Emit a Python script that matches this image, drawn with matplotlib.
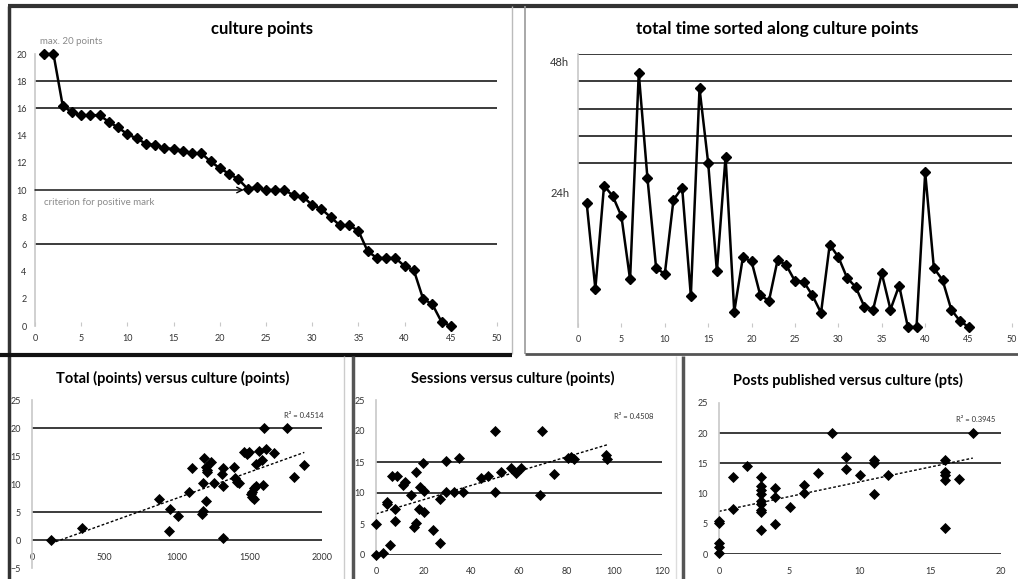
import numpy as np
import matplotlib.pyplot as plt
from matplotlib.lines import Line2D

plt.rcParams['font.family'] = ['Lato', 'DejaVu Sans']

W, H = 1018, 579

# top-left: culture points of each student, sorted
students = list(range(1, 46))
culture = [20, 20, 16.2, 15.7, 15.5, 15.5, 15.5, 15.0, 14.6, 14.1,
           13.8, 13.4, 13.3, 13.1, 13.0, 12.9, 12.7, 12.7, 12.1, 11.6,
           11.2, 10.8, 10.1, 10.2, 10.0, 10.0, 10.0, 9.6, 9.5, 8.9,
           8.6, 8.0, 7.4, 7.4, 7.0, 5.5, 5.0, 5.0, 5.0, 4.4,
           4.1, 2.0, 1.6, 0.3, 0.0]

# top-right: total time (hours) in the same order
total_time = [22.7, 7.0, 25.9, 24.0, 20.3, 8.7, 46.5, 27.3, 10.8, 9.7,
              23.3, 25.5, 5.7, 43.7, 30.0, 10.2, 31.2, 2.8, 12.8, 12.0,
              5.8, 4.8, 12.3, 11.3, 8.4, 8.3, 5.8, 2.6, 15.1, 12.8,
              9.0, 7.3, 3.7, 3.2, 9.8, 3.2, 7.6, 0.0, 0.0, 28.3,
              10.8, 8.6, 3.2, 1.1, 0.0]

# bottom-left: total points vs culture points
total_pts = [133, 345, 878, 943, 954, 1007, 1085, 1104, 1170, 1181,
             1177, 1184, 1198, 1205, 1209, 1202, 1235, 1253, 1315, 1313,
             1315, 1315, 1395, 1402, 1416, 1430, 1460, 1483, 1497, 1510,
             1519, 1529, 1533, 1547, 1543, 1568, 1586, 1596, 1598, 1616,
             1671, 1759, 1809, 1878, 1517]
total_cult = [0.0, 2.1, 7.4, 1.6, 5.5, 4.2, 8.6, 12.9, 4.6, 5.2,
              10.1, 14.7, 13.1, 12.5, 12.1, 7.0, 13.9, 10.1, 12.8, 11.7,
              9.6, 0.3, 13.1, 11.1, 10.4, 10.1, 15.7, 15.3, 15.7, 8.2,
              7.7, 7.3, 9.2, 9.7, 13.5, 15.9, 14.3, 9.9, 20.0, 16.25,
              15.6, 20.0, 11.3, 13.4, 8.5]

# bottom-middle: sessions vs culture points
sessions = [0, 0, 2.8, 5.9, 4.6, 4.8, 6.7, 8.8, 8.1, 8.1,
            11.3, 12.0, 14.7, 15.8, 16.8, 16.8, 17.9, 18.6, 19.7, 20.3,
            20.3, 23.8, 26.9, 27.0, 29.5, 29.5, 32.6, 34.7, 36.5, 44.1,
            47.0, 50.1, 50.1, 52.6, 56.8, 58.9, 60.8, 69.0, 69.7, 74.8,
            80.6, 81.8, 82.9, 96.5, 96.9]
sess_cult = [0.0, 5.0, 0.4, 1.6, 8.6, 8.2, 12.8, 12.8, 7.4, 5.5,
             11.3, 11.7, 9.6, 4.5, 5.1, 13.4, 7.4, 11.0, 14.8, 10.3,
             7.0, 4.1, 9.0, 2.0, 15.2, 10.2, 10.2, 15.7, 10.1, 12.4,
             12.8, 20.0, 10.2, 13.4, 14.1, 13.2, 14.0, 9.6, 20.0, 13.1,
             15.6, 15.75, 15.5, 16.2, 15.5]

# bottom-right: posts published vs culture points
posts = [0, 0, 0, 0, 0, 1, 1, 2, 3, 3, 3, 3, 3, 3, 3, 3, 3,
         4, 4, 4, 5, 6, 6, 7, 8, 9, 9, 10, 11, 11, 11, 12,
         16, 16, 16, 16, 16, 17, 18]
posts_cult = [0.2, 1.2, 1.8, 5.1, 5.5, 12.7, 7.4, 14.5, 12.7, 11.2, 10.6, 9.9, 8.7, 8.3, 7.3, 6.9, 4.0,
              10.9, 9.5, 4.9, 7.8, 11.5, 10.1, 13.4, 20.0, 16.1, 14.1, 13.1, 15.6, 15.0, 9.9, 13.1,
              15.6, 13.6, 13.1, 12.2, 4.3, 12.5, 20.0]

fig = plt.figure(figsize=(W / 100, H / 100), dpi=100)


def px_axes(x0, x1, ytop, ybot):
    return fig.add_axes([x0 / W, 1 - ybot / H, (x1 - x0) / W, (ybot - ytop) / H])


def fig_line(x0, y0, x1, y1, color, lw):
    fig.add_artist(Line2D([x0 / W, x1 / W], [1 - y0 / H, 1 - y1 / H],
                          transform=fig.transFigure, color=color, lw=lw,
                          solid_capstyle='butt'))


def fig_text(x, y, s, **kw):
    fig.text(x / W, 1 - y / H, s, **kw)


def style(ax, ypad=10):
    for s in ['top', 'right', 'bottom']:
        ax.spines[s].set_visible(False)
    ax.spines['left'].set_color('#c8c8c8')
    ax.spines['left'].set_linewidth(1.2)
    ax.tick_params(axis='y', length=0, labelsize=6.5, labelcolor='#333333', pad=ypad)
    ax.tick_params(axis='x', length=3, direction='in', color='#c8c8c8',
                   labelsize=6.5, labelcolor='#333333', pad=6)
    ax.set_facecolor('none')


# panel borders (screenshot collage)
fig_line(8, 6, 1018, 6, '#333333', 3)
fig_line(9, 6, 9, 579, '#333333', 2.5)
fig_line(512, 6, 512, 354, '#bbbbbb', 1)
fig_line(525, 6, 525, 354, '#999999', 1.2)
fig_line(0, 355, 512, 355, '#111111', 3)
fig_line(525, 354, 1018, 354, '#555555', 2)
fig_line(344, 356, 344, 579, '#cccccc', 1)
fig_line(353, 356, 353, 579, '#555555', 2.5)
fig_line(676, 356, 676, 579, '#dddddd', 1)
fig_line(683, 356, 683, 579, '#555555', 2.5)

# ---- top-left: culture points
ax1 = px_axes(35, 497, 54, 326)
style(ax1, ypad=6)
for g in [18, 16, 6]:
    ax1.axhline(g, color='#1a1a1a', lw=1.2, zorder=1)
ax1.plot(students, culture, color='black', lw=1.8, marker='D', ms=5.5, zorder=3, clip_on=False)
ax1.annotate('', xy=(22.6, 10), xytext=(0, 10),
             arrowprops=dict(arrowstyle='->', color='black', lw=1, shrinkA=0, shrinkB=0))
ax1.set_xlim(0, 50)
ax1.set_ylim(0, 20)
ax1.set_xticks(range(0, 51, 5))
ax1.set_yticks(range(0, 21, 2))
ax1.text(0.5, 20.9, 'max. 20 points', color='#8a8a8a', fontsize=7, va='center', clip_on=False)
ax1.text(1.0, 9.05, 'criterion for positive mark', color='#8a8a8a', fontsize=7, va='center')
fig_text(262, 29, 'culture points', ha='center', va='center', fontsize=12, fontweight='bold')

# ---- top-right: total time
ax2 = px_axes(578, 1012, 54, 327)
style(ax2)
for g in [30, 35, 40, 45, 50]:
    ax2.axhline(g, color='#1a1a1a', lw=1.2, zorder=1)
ax2.plot(students, total_time, color='black', lw=1.8, marker='D', ms=5.5, zorder=3, clip_on=False)
ax2.set_xlim(0, 50)
ax2.set_ylim(0, 50)
ax2.set_xticks(range(0, 51, 5))
ax2.set_yticks([])
yt = ax2.get_yaxis_transform()
ax2.text(-0.02, 48.4, '48h', transform=yt, ha='right', va='center', fontsize=8, color='#333333')
ax2.text(-0.02, 24.4, '24h', transform=yt, ha='right', va='center', fontsize=8, color='#333333')
fig_text(777, 29, 'total time sorted along culture points', ha='center', va='center',
         fontsize=12.3, fontweight='bold')


def scatter_panel(x0, x1, ytop, ybot, xs, ys, xlim, xticks, ylim, grids, r2, r2pos, title, tpos):
    ax = px_axes(x0, x1, ytop, ybot)
    style(ax, ypad=8)
    ax.spines['bottom'].set_position(('data', 0))
    ax.tick_params(axis='x', length=0, pad=9)
    for g in grids:
        ax.axhline(g, color='#1a1a1a', lw=1.2, zorder=1)
    ax.scatter(xs, ys, marker='D', s=32, color='black', zorder=3, linewidths=0, clip_on=False)
    k, b = np.polyfit(xs, ys, 1)
    xl = np.array([min(xs), max(xs)])
    ax.plot(xl, k * xl + b, color='black', lw=1, ls=(0, (2, 1.5)), zorder=2)
    ax.set_xlim(*xlim)
    ax.set_ylim(*ylim)
    ax.set_xticks(xticks)
    ax.set_yticks(range(int(ylim[0]), int(ylim[1]) + 1, 5))
    ax.text(r2pos[0], r2pos[1], r2, fontsize=5.5, color='#333333', ha='left', va='center')
    fig_text(tpos[0], tpos[1], title, ha='center', va='center', fontsize=10.5, fontweight='bold')
    return ax


scatter_panel(32, 322, 400, 568, total_pts, total_cult, (0, 2000), range(0, 2001, 500),
              (-5, 25), [20, 5, 0], 'R² = 0.4514', (1735, 22.3),
              'Total (points) versus culture (points)', (173, 378))
scatter_panel(376, 662, 400, 555, sessions, sess_cult, (0, 120), range(0, 121, 20),
              (0, 25), [15, 10, 0], 'R² = 0.4508', (100, 22.3),
              'Sessions versus culture (points)', (513, 378))
scatter_panel(719, 1001, 403, 554, posts, posts_cult, (0, 20), range(0, 21, 5),
              (0, 25), [20, 15, 0], 'R² = 0.3945', (16.8, 22.3),
              'Posts published versus culture (pts)', (848, 380))

fig.savefig('out.png', dpi=100)
